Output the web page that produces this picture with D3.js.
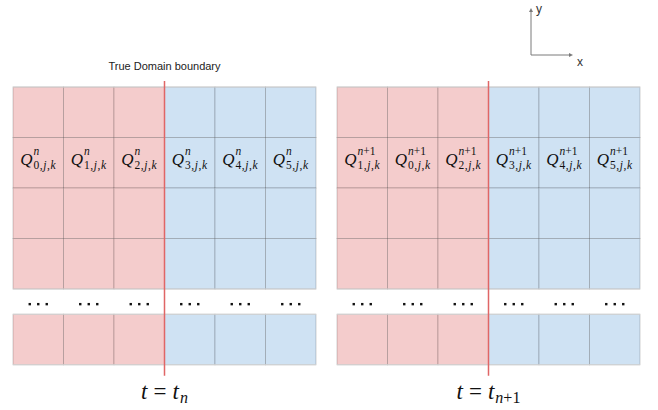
<!DOCTYPE html>
<html>
<head>
<meta charset="utf-8">
<script src="https://cdn.jsdelivr.net/npm/d3@7"></script>
<style>
  body { margin: 0; background: #fff; }
  svg { display: block; }
</style>
</head>
<body>
<div id="image"></div>
<script>
var width = 658, height = 410;

// data
var columns = [0, 1, 2, 3, 4, 5];          // cell columns of each panel
var rowStarts = [0, 1, 2, 3, 4.5];          // rows shown (in cell units), the last one after the gap
var labelRow = 1;                           // row holding the Q labels
var dotsRow = 4.3;                          // row holding the "..." marks
var boundaryCol = 3;                        // boundary sits before this column
var panels = [0, 1];
var panelSup = [["n"], ["n", "+1"]];        // superscript of Q
var panelIndices = [["0", "1", "2", "3", "4", "5"], ["1", "0", "2", "3", "4", "5"]];
var panelTime = [["n"], ["n", "+1"]];       // subscript of t
var boundaryTitle = "True Domain boundary";

var serif = "'Liberation Serif', 'Times New Roman', serif";
var sans = "'Liberation Sans', Arial, sans-serif";
var red = "#f4cccc", blue = "#cfe2f3";

var svg = d3.select("#image").append("svg")
    .attr("width", width).attr("height", height);

// scales
var xPanel = d3.scaleOrdinal().domain(panels).range([13, 337]);
var xCell = d3.scaleLinear().domain([0, 6]).range([0, 303]);
var y = d3.scaleLinear().domain([0, 1]).range([87, 137.5]);
var cw = xCell(1) - xCell(0), ch = y(1) - y(0);

// width of a string in a given style
function measure(str, size, style) {
    var t = svg.append("text").style("font-family", serif).style("font-size", size + "px")
        .style("font-style", style).text(str);
    var w = t.node().getComputedTextLength();
    t.remove();
    return w;
}
function italicIf(s) { return /^[a-z]/.test(s) ? "italic" : "normal"; }

panels.forEach(function(p) {
    var g = svg.append("g").attr("transform", "translate(" + xPanel(p) + ",0)");

    // cells
    var cells = [];
    rowStarts.forEach(function(r) {
        columns.forEach(function(c) { cells.push({r: r, c: c}); });
    });
    g.selectAll("rect.cell").data(cells).enter().append("rect")
        .attr("class", "cell")
        .attr("x", function(d) { return xCell(d.c); })
        .attr("y", function(d) { return y(d.r); })
        .attr("width", cw).attr("height", ch)
        .attr("fill", function(d) { return d.c < boundaryCol ? red : blue; })
        .attr("stroke", "rgba(0,0,0,0.18)")
        .attr("stroke-width", 1);

    // light outer edges (top/bottom of each block)
    var edges = [y(0), y(4), y(4.5), y(5.5)];
    g.selectAll("line.edge").data(edges).enter().append("line")
        .attr("x1", xCell(0)).attr("x2", xCell(6))
        .attr("y1", function(d) { return d; }).attr("y2", function(d) { return d; })
        .attr("stroke", "#d4d4d4").attr("stroke-width", 1.2);

    // dots between blocks
    var dots = [];
    columns.forEach(function(c) { [-1, 0, 1].forEach(function(k) { dots.push({c: c, k: k}); }); });
    g.selectAll("rect.dot").data(dots).enter().append("rect")
        .attr("class", "dot")
        .attr("x", function(d) { return xCell(d.c + 0.5) + d.k * 8.5 - 1.2; })
        .attr("y", y(dotsRow) - 1.2)
        .attr("width", 2.4).attr("height", 2.4)
        .attr("fill", "#111");

    // Q labels: one text element each, sup and sub stacked after the Q
    var qw = measure("Q", 17, "italic") + 1;
    columns.forEach(function(c, i) {
        var subParts = [[panelIndices[p][i], "normal"], [",", "normal"], ["j", "italic"], [",", "normal"], ["k", "italic"]];
        var supW = d3.sum(panelSup[p], function(s) { return measure(s, 11.5, italicIf(s)); });
        var subW = d3.sum(subParts, function(s) { return measure(s[0], 11.5, s[1]) + 0.6; });
        var tw = qw + Math.max(supW, subW);
        var x0 = xPanel(p) + xCell(c + 0.5) - tw / 2;
        var yb = y(labelRow + 0.5) + 2;
        var t = svg.append("text")
            .attr("x", x0).attr("y", yb)
            .style("font-family", serif).style("font-size", "17px").attr("fill", "#111");
        t.append("tspan").style("font-style", "italic").text("Q");
        panelSup[p].forEach(function(s, k) {
            t.append("tspan")
                .attr("x", k == 0 ? x0 + qw : null)
                .attr("y", k == 0 ? yb - 10 : null)
                .style("font-size", "11.5px").style("font-style", italicIf(s)).text(s);
        });
        subParts.forEach(function(s, k) {
            t.append("tspan")
                .attr("x", k == 0 ? x0 + qw : null)
                .attr("y", k == 0 ? yb + 4 : null)
                .attr("dx", k == 0 ? null : 0.6)
                .style("font-size", "11.5px").style("font-style", s[1]).text(s[0]);
        });
    });

    // boundary line
    g.append("line")
        .attr("x1", xCell(boundaryCol)).attr("x2", xCell(boundaryCol))
        .attr("y1", y(-0.12)).attr("y2", y(5.72))
        .attr("stroke", "#e06666").attr("stroke-width", 1.5);

    // time label
    var tl = svg.append("text")
        .attr("x", xPanel(p) + xCell(boundaryCol)).attr("y", 399)
        .attr("text-anchor", "middle")
        .style("font-family", serif).style("font-size", "23px").attr("fill", "#111");
    tl.append("tspan").style("font-style", "italic").text("t");
    tl.append("tspan").attr("dx", 6).text("=");
    tl.append("tspan").attr("dx", 6).style("font-style", "italic").text("t");
    panelTime[p].forEach(function(s, k) {
        tl.append("tspan").attr("dy", k == 0 ? 4 : null).attr("dx", k == 0 ? 1 : null)
            .style("font-size", "16px").style("font-style", italicIf(s)).text(s);
    });
});

// title over the left boundary
svg.append("text")
    .attr("x", xPanel(0) + xCell(boundaryCol)).attr("y", 70)
    .attr("text-anchor", "middle")
    .style("font-family", sans).style("font-size", "11px").attr("fill", "#222")
    .text(boundaryTitle);

// little axes icon
var ax = svg.append("g").attr("stroke", "#7a7a7a").attr("fill", "none");
ax.append("polyline").attr("points", "531,11 531,55 570,55");
svg.append("path").attr("d", "M531,8 L529,12 L533,12 Z").attr("fill", "#7a7a7a");
svg.append("path").attr("d", "M573,55 L569,53 L569,57 Z").attr("fill", "#7a7a7a");
svg.append("text").attr("x", 536).attr("y", 13)
    .style("font-family", sans).style("font-size", "12px").attr("fill", "#333").text("y");
svg.append("text").attr("x", 577).attr("y", 66)
    .style("font-family", sans).style("font-size", "12px").attr("fill", "#333").text("x");
</script>
</body>
</html>
